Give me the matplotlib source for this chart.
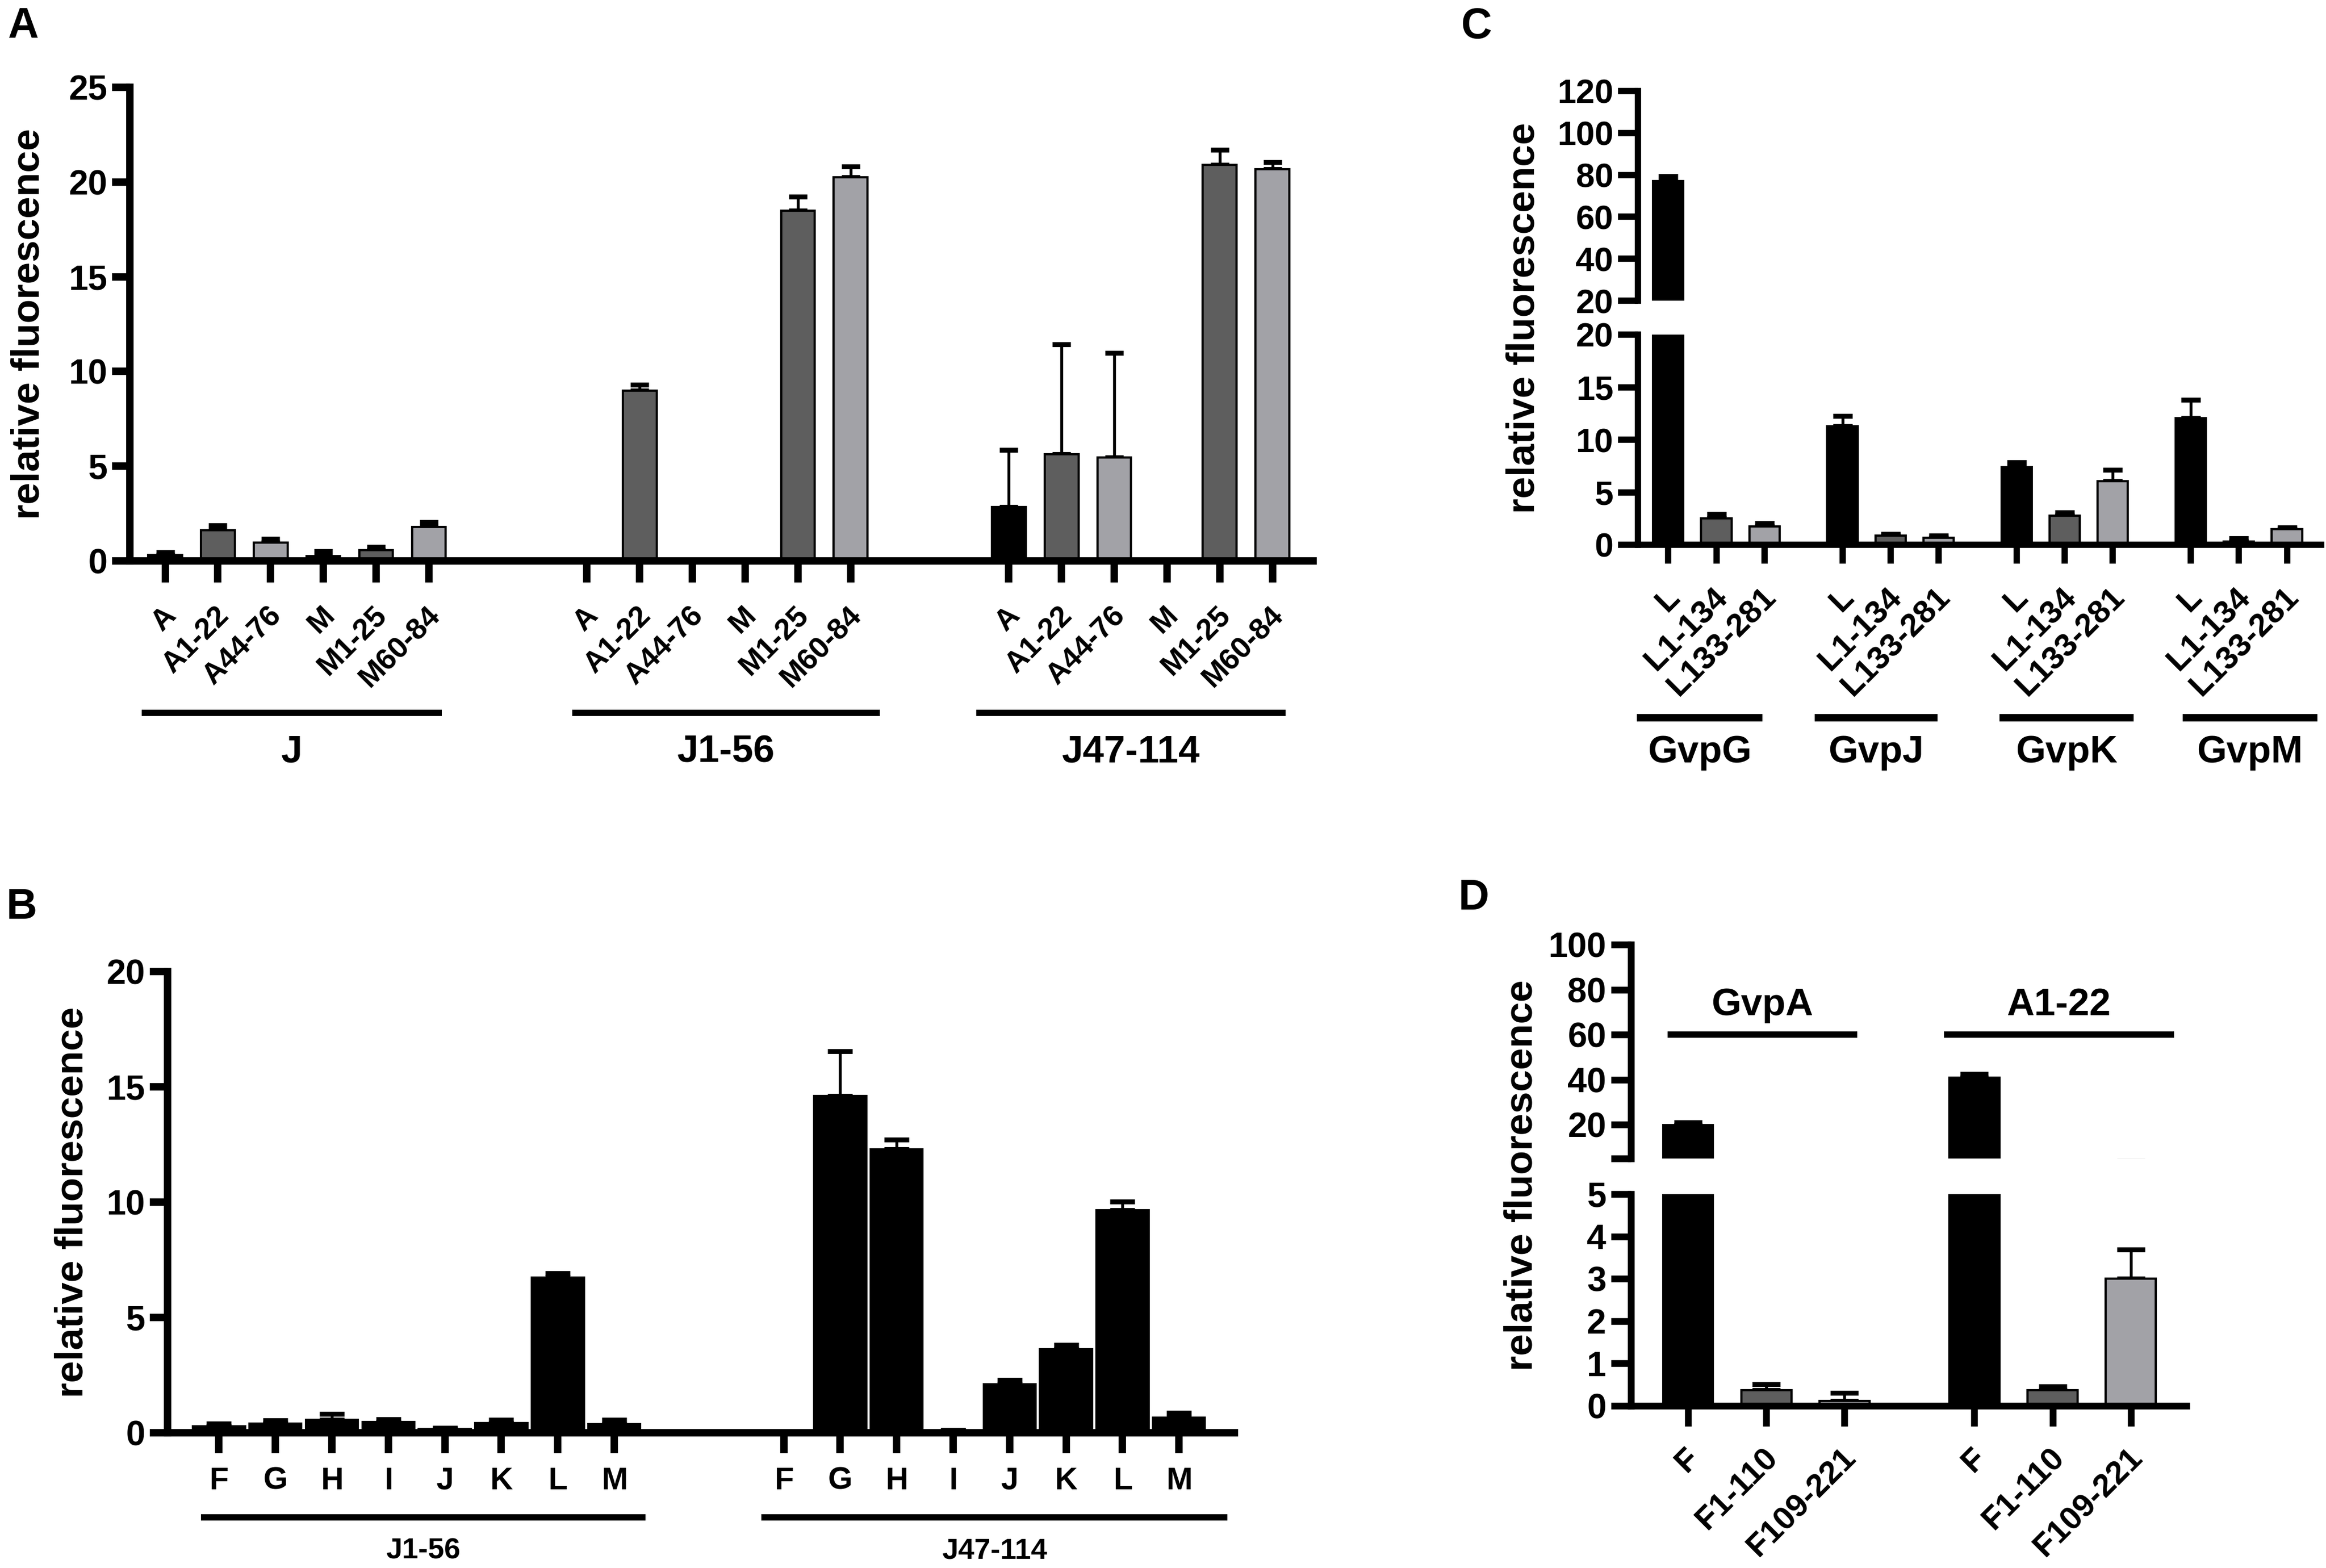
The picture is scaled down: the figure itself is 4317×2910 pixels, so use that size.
import numpy as np
import matplotlib
matplotlib.use("Agg")
import matplotlib.pyplot as plt
from matplotlib.transforms import ScaledTranslation

plt.rcParams['font.family'] = ['Liberation Sans', 'DejaVu Sans']
plt.rcParams['font.weight'] = 'bold'

BLACK = '#000000'
DARK = '#5e5e5e'
LIGHT = '#a2a2a7'

# ---- panel A data ----
a_groups = ['J', 'J1-56', 'J47-114']
a_labels = ['A', 'A1-22', 'A44-76', 'M', 'M1-25', 'M60-84']
a_colors = [BLACK, DARK, LIGHT, BLACK, DARK, LIGHT]
a_vals = [[0.31, 1.63, 0.96, 0.27, 0.58, 1.80],
          [0.0, 9.0, 0.0, 0.0, 18.5, 20.25],
          [2.85, 5.62, 5.46, 0.0, 20.9, 20.67]]
a_err = [[0.14, 0.24, 0.22, 0.24, 0.15, 0.25],
         [0.0, 0.3, 0.0, 0.0, 0.72, 0.58],
         [3.0, 5.8, 5.52, 0.0, 0.8, 0.37]]

# ---- panel B data ----
b_groups = ['J1-56', 'J47-114']
b_labels = ['F', 'G', 'H', 'I', 'J', 'K', 'L', 'M']
b_vals = [[0.29, 0.39, 0.55, 0.47, 0.16, 0.41, 6.72, 0.37],
          [0.0, 14.6, 12.3, 0.1, 2.1, 3.63, 9.65, 0.66]]
b_err = [[0.1, 0.15, 0.27, 0.12, 0.05, 0.16, 0.2, 0.2],
         [0.0, 1.95, 0.4, 0.02, 0.2, 0.17, 0.38, 0.2]]

# ---- panel C data ----
c_groups = ['GvpG', 'GvpJ', 'GvpK', 'GvpM']
c_labels = ['L', 'L1-134', 'L133-281']
c_colors = [BLACK, DARK, LIGHT]
c_vals = [[77.1, 2.52, 1.76],
          [11.3, 0.86, 0.67],
          [7.36, 2.76, 6.03],
          [12.07, 0.29, 1.47]]
c_err = [[2.4, 0.38, 0.28],
         [0.96, 0.19, 0.19],
         [0.48, 0.33, 1.1],
         [1.71, 0.33, 0.19]]

# ---- panel D data ----
d_groups = ['GvpA', 'A1-22']
d_labels = ['F', 'F1-110', 'F109-221']
d_colors = [BLACK, DARK, LIGHT]
d_vals = [[19.8, 0.37, 0.12],
          [41.0, 0.37, 3.0]]
d_err = [[1.2, 0.14, 0.18],
         [1.6, 0.09, 0.69]]

W, H = 4317, 2910
fig = plt.figure(figsize=(W / 300, H / 300), dpi=300)


def fx(px):
    return px / W


def fy(py):
    return 1 - py / H


def axes_px(x0, x1, ytop, ybot):
    return fig.add_axes([fx(x0), fy(ybot), fx(x1) - fx(x0), fy(ytop) - fy(ybot)])


def draw_bars(ax, x, vals, errs, colors, width, cap):
    x = np.asarray(x, dtype=float)
    vals = np.asarray(vals, dtype=float)
    errs = np.asarray(errs, dtype=float)
    ax.bar(x, vals, width, color=colors, edgecolor='black', linewidth=1.0, zorder=2)
    m = errs > 0
    ax.errorbar(x[m], vals[m], yerr=[np.zeros(m.sum()), errs[m]], fmt='none',
                ecolor='black', elinewidth=1.3, capsize=cap, capthick=2.2, zorder=1)


def style(ax, lw, xlen, ylen, xsize, ysize, bottom=True):
    ax.spines['top'].set_visible(False)
    ax.spines['right'].set_visible(False)
    ax.spines['left'].set_linewidth(lw)
    ax.spines['bottom'].set_linewidth(lw)
    ax.tick_params(axis='y', width=lw, length=ylen, labelsize=ysize, pad=2)
    ax.tick_params(axis='x', width=lw, length=xlen, labelsize=xsize)
    if not bottom:
        ax.spines['bottom'].set_visible(False)
        ax.tick_params(axis='x', bottom=False, labelbottom=False)


def slanted_labels(ax, labels, pad, shift=3):
    ax.set_xticklabels(labels, rotation=45, ha='right', va='center',
                       rotation_mode='anchor')
    ax.tick_params(axis='x', pad=pad)
    off = ScaledTranslation(shift / 72, 0, fig.dpi_scale_trans)
    for t in ax.get_xticklabels():
        t.set_transform(t.get_transform() + off)


def group_marks(ax, spans, names, yline, ytext, size, lw, trans=None):
    if trans is None:
        trans = ax.get_xaxis_transform()
    for (s, e), name in zip(spans, names):
        ax.plot([s, e], [yline, yline], color='black', lw=lw, solid_capstyle='butt',
                transform=trans, clip_on=False)
        ax.text((s + e) / 2, ytext, name, transform=trans, ha='center', va='center',
                fontsize=size, fontweight='bold')


def ylabel(px, py):
    fig.text(fx(px), fy(py), 'relative fluorescence', rotation=90, ha='center',
             va='center', fontsize=17.5, fontweight='bold')


# ================= Panel A =================
axA = axes_px(241, 2437, 162, 1041)
a_x, a_c, a_t = [], [], []
for g in range(len(a_groups)):
    for i, lab in enumerate(a_labels):
        a_x.append(g * 8 + i)
        a_c.append(a_colors[i])
        a_t.append(lab)
draw_bars(axA, a_x, np.ravel(a_vals), np.ravel(a_err), a_c, 0.64, 4)
axA.set_xlim(-0.67, 21.77)
axA.set_ylim(0, 25)
axA.set_yticks([0, 5, 10, 15, 20, 25])
axA.set_xticks(a_x)
style(axA, 3.3, 9.5, 8, 13.3, 15.5)
slanted_labels(axA, a_t, 13)
group_marks(axA, [(-0.45, 5.25), (7.72, 13.55), (15.38, 21.25)], a_groups,
            -0.321, -0.405, 17, 2.8)
ylabel(54, 601)
fig.text(fx(43), fy(50), 'A', ha='center', va='center', fontsize=19, fontweight='bold')

# ================= Panel B =================
axB = axes_px(311, 2291, 1803, 2659)
b_x, b_t = [], []
for g in range(len(b_groups)):
    for i, lab in enumerate(b_labels):
        b_x.append(g * 10 + i)
        b_t.append(lab)
draw_bars(axB, b_x, np.ravel(b_vals), np.ravel(b_err), BLACK, 0.92, 5.5)
axB.set_xlim(-0.91, 17.98)
axB.set_ylim(0, 20)
axB.set_yticks([0, 5, 10, 15, 20])
axB.set_xticks(b_x)
axB.set_xticklabels(b_t)
style(axB, 3.3, 9, 8, 14, 15.5)
axB.tick_params(axis='x', pad=6)
group_marks(axB, [(-0.32, 7.55), (9.6, 17.86)], b_groups, -0.183, -0.256, 13, 2.8)
ylabel(135, 2231)
fig.text(fx(40), fy(1684), 'B', ha='center', va='center', fontsize=19, fontweight='bold')

# ================= Panel C =================
c_x, c_c, c_t = [], [], []
for g in range(len(c_groups)):
    for i, lab in enumerate(c_labels):
        c_x.append(g * 3.62 + i)
        c_c.append(c_colors[i])
        c_t.append(lab)
axCu = axes_px(3040, 4308, 169, 558)
axCl = axes_px(3040, 4308, 621, 1011)
for ax in (axCu, axCl):
    draw_bars(ax, c_x, np.ravel(c_vals), np.ravel(c_err), c_c, 0.63, 4.4)
    ax.set_xlim(-0.63, 13.57)
axCu.set_ylim(20, 120)
axCu.set_yticks([20, 40, 60, 80, 100, 120])
axCl.set_ylim(0, 20)
axCl.set_yticks([0, 5, 10, 15, 20])
style(axCu, 2.8, 7, 9, 15, 15, bottom=False)
style(axCl, 2.8, 8.4, 9, 14.5, 15)
axCl.set_xticks(c_x)
slanted_labels(axCl, c_t, 13)
group_marks(axCl, [(-0.65, 1.96), (3.04, 5.6), (6.88, 9.67), (10.69, 13.49)], c_groups,
            -0.823, -0.99, 17, 3.3)
ylabel(2829, 590)
fig.text(fx(2740), fy(51), 'C', ha='center', va='center', fontsize=19, fontweight='bold')

# ================= Panel D =================
d_x, d_c, d_t = [], [], []
for g in range(len(d_groups)):
    for i, lab in enumerate(d_labels):
        d_x.append(g * 3.66 + i)
        d_c.append(d_colors[i])
        d_t.append(lab)
axDu = axes_px(3027, 4058, 1753, 2150)
axDl = axes_px(3027, 4058, 2216, 2609)
for ax in (axDu, axDl):
    draw_bars(ax, d_x, np.ravel(d_vals), np.ravel(d_err), d_c, 0.64, 6.2)
    ax.set_xlim(-0.73, 6.37)
axDu.set_ylim(5, 100)
axDu.set_yticks([5, 20, 40, 60, 80, 100])
axDu.set_yticklabels(['', '20', '40', '60', '80', '100'])
axDl.set_ylim(0, 5)
axDl.set_yticks([0, 1, 2, 3, 4, 5])
style(axDu, 3.0, 7, 9, 16, 15.5, bottom=False)
style(axDl, 3.0, 9, 9, 14.5, 15.5)
axDl.set_xticks(d_x)
slanted_labels(axDl, d_t, 12)
group_marks(axDu, [(-0.26, 2.16), (3.27, 6.21)], d_groups, 60, 73, 17, 2.8,
            trans=axDu.transData)
ylabel(2825, 2181)
fig.text(fx(2735), fy(1667), 'D', ha='center', va='center', fontsize=19, fontweight='bold')

fig.savefig('out.png', dpi=300, facecolor='white')
